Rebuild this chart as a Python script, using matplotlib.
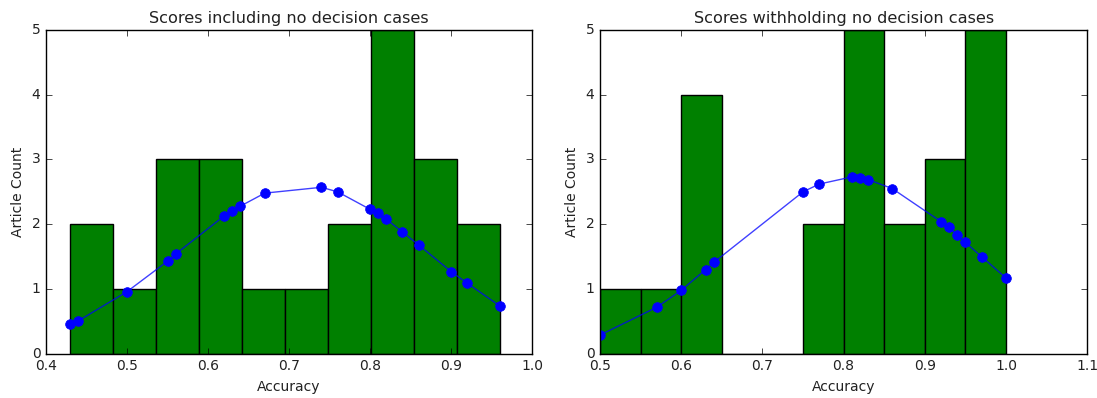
import matplotlib
matplotlib.use("Agg")
import matplotlib.pyplot as plt

plt.style.use("classic")

# left panel: scores including no decision cases
left_edges = [0.43, 0.483, 0.536, 0.589, 0.642, 0.695, 0.748, 0.801, 0.854, 0.907, 0.96]
left_counts = [2, 1, 3, 3, 1, 1, 2, 5, 3, 2]
left_x = [0.43, 0.44, 0.50, 0.55, 0.56, 0.62, 0.63, 0.64, 0.67, 0.74, 0.76,
          0.80, 0.81, 0.82, 0.84, 0.86, 0.90, 0.92, 0.96]
left_y = [0.46, 0.51, 0.96, 1.43, 1.54, 2.13, 2.21, 2.28, 2.48, 2.57, 2.50,
          2.23, 2.17, 2.08, 1.88, 1.68, 1.27, 1.09, 0.74]

# right panel: scores withholding no decision cases
right_edges = [0.50, 0.55, 0.60, 0.65, 0.70, 0.75, 0.80, 0.85, 0.90, 0.95, 1.00]
right_counts = [1, 1, 4, 0, 0, 2, 5, 2, 3, 5]
right_x = [0.50, 0.57, 0.60, 0.63, 0.64, 0.75, 0.77, 0.81, 0.82, 0.83, 0.86,
           0.92, 0.93, 0.94, 0.95, 0.97, 1.00]
right_y = [0.29, 0.72, 0.98, 1.30, 1.41, 2.50, 2.62, 2.73, 2.71, 2.69, 2.55,
           2.04, 1.95, 1.83, 1.72, 1.50, 1.17]

fig = plt.figure(figsize=(10.97, 3.98), dpi=100, facecolor="white")
ax1 = fig.add_axes([0.042, 0.111, 0.443, 0.814])
ax2 = fig.add_axes([0.547, 0.111, 0.444, 0.814])

panels = [
    (ax1, left_edges, left_counts, left_x, left_y,
     "Scores including no decision cases", (0.4, 1.0)),
    (ax2, right_edges, right_counts, right_x, right_y,
     "Scores withholding no decision cases", (0.5, 1.1)),
]

for ax, edges, counts, xs, ys, title, xlim in panels:
    ax.hist(edges[:-1], bins=edges, weights=counts, color="g", edgecolor="k")
    ax.plot(xs, ys, "-", color="b", alpha=0.75)
    ax.plot(xs, ys, "o", color="b", markersize=7, markeredgecolor="b")
    ax.set_xlim(*xlim)
    ax.set_ylim(0, 5)
    ax.set_title(title, fontsize=11.6, color="#222222")
    ax.set_xlabel("Accuracy", fontsize=10, color="#222222")
    ax.set_ylabel("Article Count", fontsize=10, color="#222222")
    ax.tick_params(labelsize=10, labelcolor="#222222")

fig.savefig("out.png", dpi=100, facecolor="white")
